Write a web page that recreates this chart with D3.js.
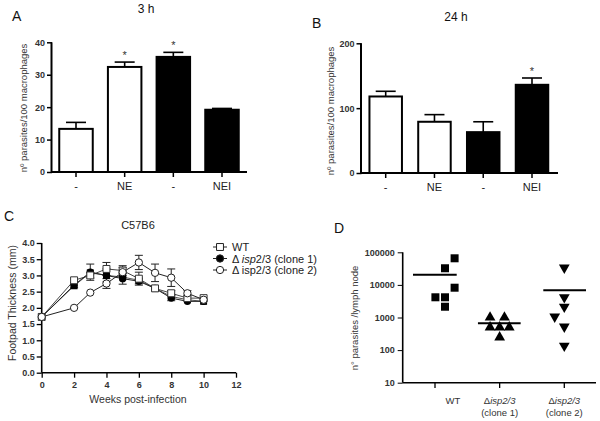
<!DOCTYPE html>
<html><head><meta charset="utf-8">
<script src="https://cdn.jsdelivr.net/npm/d3@7"></script>
<style>
body{margin:0;background:#fff;}
svg{display:block;font-family:Arial,"Liberation Sans",sans-serif;}
.tk text{font-size:9px;font-weight:bold;fill:#333;}
</style></head><body>
<svg id="c" width="600" height="421"></svg>
<script>
// Panel A (3 h)
const barCats = ["-", "NE", "-", "NEI"];
const barFill = ["white", "white", "black", "black"];
const a3hMean = [13.3, 32.4, 35.5, 19.2];
const a3hErr = [2.0, 1.5, 1.4, 0.4];
const a3hStar = [false, true, true, false];
const aTicks = [0, 10, 20, 30, 40];
// Panel B (24 h)
const b24Mean = [118, 79, 63, 136];
const b24Err = [8, 11, 16, 10.5];
const b24Star = [false, false, false, true];
const bTicks = [0, 100, 200];
// Panel C (footpad thickness)
const weeks = [0, 2, 3, 4, 5, 6, 7, 8, 9, 10];
const wtVals = [1.72, 2.85, 3.0, 3.2, 3.15, 2.9, 2.6, 2.45, 2.3, 2.3];
const wtErr = [0, 0.05, 0.08, 0.2, 0.15, 0.2, 0.05, 0.08, 0.05, 0.05];
const c1Vals = [1.72, 2.7, 3.1, 3.0, 2.9, 2.82, 2.6, 2.3, 2.2, 2.2];
const c1Err = [0, 0.08, 0.25, 0.2, 0.17, 0.08, 0.05, 0.08, 0.05, 0.05];
const c2Vals = [1.72, 2.0, 2.47, 2.75, 3.1, 3.4, 3.08, 2.93, 2.45, 2.25];
const c2Err = [0, 0.03, 0.05, 0.15, 0.15, 0.22, 0.27, 0.27, 0.08, 0.05];
const sqVals = [1.72, 2.68, 3.08, 3.0, 2.95, 2.85, 2.6, 2.35, 2.25, 2.2];
const cTicksY = [0, 0.5, 1.0, 1.5, 2.0, 2.5, 3.0, 3.5, 4.0];
const cTicksX = [0, 2, 4, 6, 8, 10, 12];
// Panel D (parasites per lymph node)
const dGroups = ["WT", "clone1", "clone2"];
const dWT = [65500, 32400, 8200, 4170, 4170, 2140];
const dWTslot = [1, 0, 1, -1, 0, 0];
const dC1 = [1010, 1010, 500, 500, 500, 247];
const dC1slot = [-1, 0.5, -1, 0, 1, 0];
const dC2 = [33700, 4170, 2140, 1060, 522, 136];
const dC2slot = [0, 0, 0, -1, 0, 0];
const dMeans = [20500, 664, 6820];
const dTicks = [10, 100, 1000, 10000, 100000];

const svg = d3.select("#c");

function label(x, y, t, size, opts = {}) {
  const el = svg.append("text").attr("x", x).attr("y", y).attr("font-size", size)
    .attr("fill", opts.fill || "#111").attr("text-anchor", opts.anchor || "start").text(t);
  if (opts.rot) el.attr("transform", `rotate(-90,${x},${y})`);
  if (opts.weight) el.attr("font-weight", opts.weight);
  return el;
}

function barPanel(cx0, cx1, ax0, ax1, yBase, yTop, maxV, ticks, means, errs, stars, bw) {
  const x = d3.scalePoint().domain(d3.range(means.length)).range([cx0, cx1]);
  const y = d3.scaleLinear().domain([0, maxV]).range([yBase, yTop]);
  const g = svg.append("g");
  means.forEach((m, i) => {
    const cx = x(i);
    g.append("line").attr("x1", cx).attr("x2", cx).attr("y1", y(m)).attr("y2", y(m + errs[i]))
      .attr("stroke", "#000").attr("stroke-width", 1.6);
    g.append("line").attr("x1", cx - 10).attr("x2", cx + 10).attr("y1", y(m + errs[i])).attr("y2", y(m + errs[i]))
      .attr("stroke", "#000").attr("stroke-width", 1.6);
    g.append("rect").attr("x", cx - bw / 2).attr("y", y(m)).attr("width", bw).attr("height", y(0) - y(m))
      .attr("fill", barFill[i]).attr("stroke", "#000").attr("stroke-width", 2);
    if (stars[i]) label(cx, y(m + errs[i]) - 3, "*", 11, {anchor: "middle", fill: "#333"});
    g.append("line").attr("x1", cx).attr("x2", cx).attr("y1", yBase).attr("y2", yBase + 5)
      .attr("stroke", "#000").attr("stroke-width", 1.5);
    label(cx, yBase + 18, barCats[i], 11, {anchor: "middle", fill: "#222"});
  });
  const ya = svg.append("g").attr("class", "tk").attr("transform", `translate(${ax0},0)`)
    .call(d3.axisLeft(y).tickValues(ticks).tickSize(5).tickPadding(2).tickFormat(d3.format("d")));
  ya.select(".domain").attr("stroke-width", 2).attr("d", `M-0.5,${yTop}V${yBase}`);
  ya.selectAll(".tick line").attr("stroke-width", 1.5);
  svg.append("line").attr("x1", ax0 - 1).attr("x2", ax1).attr("y1", yBase).attr("y2", yBase)
    .attr("stroke", "#000").attr("stroke-width", 2);
}

// Panel A
label(12, 21, "A", 14);
label(146, 13, "3 h", 12, {anchor: "middle"});
label(27, 108, "nº parasites/100 macrophages", 9.5, {anchor: "middle", rot: true, fill: "#333"});
barPanel(76, 222, 52, 247, 172, 42.3, 40, aTicks, a3hMean, a3hErr, a3hStar, 33.5);

// Panel B
label(312, 28, "B", 14);
label(456, 21, "24 h", 12, {anchor: "middle"});
label(334, 111, "nº parasites/100 macrophages", 9.5, {anchor: "middle", rot: true, fill: "#333"});
barPanel(385.7, 532, 361.5, 558, 173, 43.3, 200, bTicks, b24Mean, b24Err, b24Star, 32.5);

// Panel C
label(4, 221, "C", 14);
label(138, 229, "C57B6", 11, {anchor: "middle", fill: "#222"});
label(16, 303, "Footpad Thickness (mm)", 10.5, {anchor: "middle", rot: true, fill: "#333"});
label(138, 403, "Weeks post-infection", 10.5, {anchor: "middle", fill: "#333"});
const cx = d3.scaleLinear().domain([0, 12]).range([41.7, 236]);
const cy = d3.scaleLinear().domain([0, 4]).range([372.7, 243]);
const cya = svg.append("g").attr("class", "tk").attr("transform", "translate(41.7,0)")
  .call(d3.axisLeft(cy).tickValues(cTicksY).tickSize(5).tickPadding(2).tickFormat(d3.format(".1f")));
cya.select(".domain").attr("stroke-width", 1.6).attr("d", "M0,243V372.7");
cya.selectAll(".tick line").attr("stroke-width", 1.3);
const cxa = svg.append("g").attr("class", "tk").attr("transform", "translate(0,372.7)")
  .call(d3.axisBottom(cx).tickValues(cTicksX).tickSize(5).tickPadding(4).tickFormat(d3.format("d")));
cxa.select(".domain").attr("stroke-width", 1.6).attr("d", "M41.7,0H236");
cxa.selectAll(".tick line").attr("stroke-width", 1.3);
cxa.selectAll(".tick text").attr("font-size", 9.5);

const lineGen = vals => d3.line().x((d, i) => cx(weeks[i])).y(d => cy(d))(vals);
function errBars(vals, errs) {
  vals.forEach((v, i) => {
    if (errs[i] < 0.06) return;
    const x = cx(weeks[i]);
    [-1, 1].forEach(s => {
      svg.append("line").attr("x1", x).attr("x2", x).attr("y1", cy(v)).attr("y2", cy(v + s * errs[i]))
        .attr("stroke", "#222").attr("stroke-width", 1);
      svg.append("line").attr("x1", x - 4).attr("x2", x + 4).attr("y1", cy(v + s * errs[i])).attr("y2", cy(v + s * errs[i]))
        .attr("stroke", "#222").attr("stroke-width", 1);
    });
  });
}
svg.append("path").attr("d", lineGen(sqVals)).attr("fill", "none").attr("stroke", "#555").attr("stroke-width", 1);
svg.append("path").attr("d", lineGen(wtVals)).attr("fill", "none").attr("stroke", "#444").attr("stroke-width", 1);
svg.append("path").attr("d", lineGen(c1Vals)).attr("fill", "none").attr("stroke", "#222").attr("stroke-width", 1);
svg.append("path").attr("d", lineGen(c2Vals)).attr("fill", "none").attr("stroke", "#222").attr("stroke-width", 1);
errBars(wtVals, wtErr); errBars(c1Vals, c1Err); errBars(c2Vals, c2Err);
const sqSym = d3.symbol().type(d3.symbolSquare).size(48);
const ciSym = d3.symbol().type(d3.symbolCircle).size(42);
sqVals.forEach((v, i) => svg.append("path").attr("d", sqSym()).attr("transform", `translate(${cx(weeks[i])},${cy(v)})`).attr("fill", "#000"));
c1Vals.forEach((v, i) => svg.append("path").attr("d", ciSym()).attr("transform", `translate(${cx(weeks[i])},${cy(v)})`).attr("fill", "#000"));
wtVals.forEach((v, i) => svg.append("path").attr("d", sqSym()).attr("transform", `translate(${cx(weeks[i])},${cy(v)})`).attr("fill", "#fff").attr("stroke", "#333").attr("stroke-width", 1));
c2Vals.forEach((v, i) => svg.append("path").attr("d", ciSym()).attr("transform", `translate(${cx(weeks[i])},${cy(v)})`).attr("fill", "#fff").attr("stroke", "#222").attr("stroke-width", 1));

// legend C
const legY = [247, 258.5, 270];
[["sq", "#fff"], ["ci", "#000"], ["ci", "#fff"]].forEach((m, i) => {
  svg.append("line").attr("x1", 213).attr("x2", 227).attr("y1", legY[i]).attr("y2", legY[i]).attr("stroke", "#222").attr("stroke-width", 1);
  svg.append("path").attr("d", m[0] === "sq" ? sqSym() : ciSym()).attr("transform", `translate(220,${legY[i]})`)
    .attr("fill", m[1]).attr("stroke", "#222").attr("stroke-width", 1);
});
label(232, legY[0] + 4, "WT", 11, {fill: "#222"});
const l2 = label(232, legY[1] + 4, "Δ ", 11, {fill: "#222"});
l2.append("tspan").attr("font-style", "italic").text("isp");
l2.append("tspan").text("2/3 (clone 1)");
label(232, legY[2] + 4, "Δ isp2/3 (clone 2)", 11, {fill: "#222"});

// Panel D
label(334, 233, "D", 14);
label(358, 318, "n° parasites /lymph node", 9.5, {anchor: "middle", rot: true, fill: "#333"});
const dx = d3.scalePoint().domain(dGroups).range([435, 564.3]);
const dy = d3.scaleLog().domain([10, 100000]).range([382.7, 252.3]);
const dya = svg.append("g").attr("class", "tk").attr("transform", "translate(402.7,0)")
  .call(d3.axisLeft(dy).tickValues(dTicks).tickSize(5).tickPadding(3).tickFormat(d3.format("d")));
dya.select(".domain").attr("stroke-width", 1.6).attr("d", "M0,252.3V382.7");
dya.selectAll(".tick text").attr("font-weight", "normal").attr("font-size", 9);
svg.append("line").attr("x1", 402.7).attr("x2", 596).attr("y1", 382.7).attr("y2", 382.7).attr("stroke", "#000").attr("stroke-width", 1.6);
dGroups.forEach(gname => svg.append("line").attr("x1", dx(gname)).attr("x2", dx(gname)).attr("y1", 382.7).attr("y2", 388).attr("stroke", "#000").attr("stroke-width", 1.3));
const slotW = 9.6;
const sq2 = d3.symbol().type(d3.symbolSquare).size(64);
const tri = d3.symbol().type(d3.symbolTriangle).size(50);
dWT.forEach((v, i) => svg.append("path").attr("d", sq2()).attr("transform", `translate(${dx("WT") + 10 + dWTslot[i] * slotW},${dy(v)})`).attr("fill", "#000"));
dC1.forEach((v, i) => svg.append("path").attr("d", tri()).attr("transform", `translate(${dx("clone1") + dC1slot[i] * slotW},${dy(v)})`).attr("fill", "#000"));
dC2.forEach((v, i) => svg.append("path").attr("d", tri()).attr("transform", `translate(${dx("clone2") + dC2slot[i] * slotW},${dy(v)}) rotate(180)`).attr("fill", "#000"));
const meanOff = [[-22, 21.7], [-21.7, 21], [-21, 21.7]];
dGroups.forEach((gname, i) => svg.append("line").attr("x1", dx(gname) + (i === 0 ? 0 : 0) + meanOff[i][0] + (i === 0 ? 0 : 0)).attr("x2", dx(gname) + meanOff[i][1])
  .attr("y1", dy(dMeans[i])).attr("y2", dy(dMeans[i])).attr("stroke", "#000").attr("stroke-width", 2));
label(453, 404, "WT", 9.5, {anchor: "middle", fill: "#333"});
[["clone1", "(clone 1)"], ["clone2", "(clone 2)"]].forEach(([gname, t]) => {
  const el = label(dx(gname), 404, "Δ", 9.5, {anchor: "middle", fill: "#333"});
  el.append("tspan").attr("font-style", "italic").text("isp2/3");
  label(dx(gname), 415.5, t, 9.5, {anchor: "middle", fill: "#333"});
});
</script></body></html>
